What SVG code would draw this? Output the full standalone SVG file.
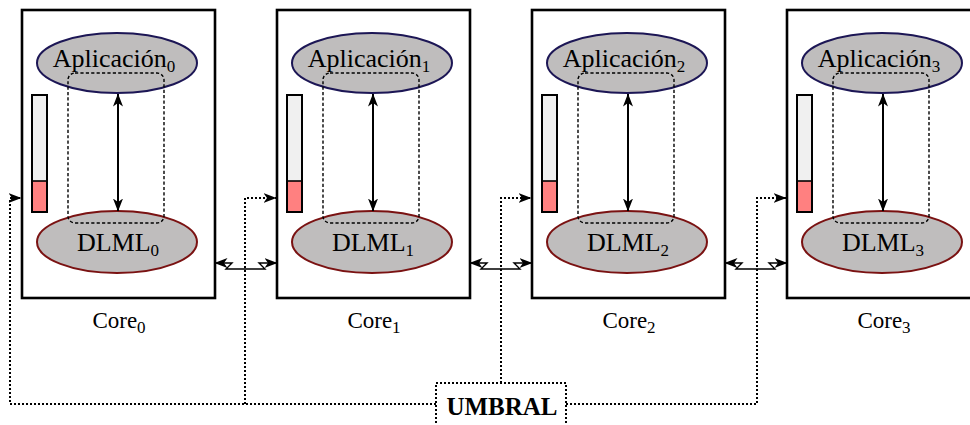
<svg xmlns="http://www.w3.org/2000/svg" width="970" height="425" viewBox="0 0 970 425">
  <style>
    .core { fill: #ffffff; stroke: #000000; stroke-width: 2.6; }
    .app { fill: #bfbdbd; stroke: #1c1655; stroke-width: 2; }
    .dlml { fill: #bfbdbd; stroke: #7a1212; stroke-width: 2; }
    .scope { fill: none; stroke: #000000; stroke-width: 1.4; stroke-dasharray: 3.2 2.2; }
    .bar-empty { fill: #f0f0f0; stroke: none; }
    .bar-fill { fill: #ff8080; stroke: none; }
    .bar-frame { fill: none; stroke: #000000; stroke-width: 2; }
    .bar-cut { stroke: #000000; stroke-width: 1.6; }
    .link { fill: none; stroke: #000000; stroke-width: 2; }
    .net { fill: none; stroke: #000000; stroke-width: 1.4; marker-start: url(#head); marker-end: url(#head); }
    .dots { fill: none; stroke: #000000; stroke-width: 2; stroke-dasharray: 2 2; }
    .lbl { font-family: "Liberation Serif", "Times New Roman", serif; fill: #000000; text-anchor: middle; }
    .big { font-size: 26px; }
    .mid { font-size: 23px; }
    .sub { font-size: 17px; }
    .umbral { font-family: "Liberation Serif", "Times New Roman", serif; font-weight: bold; font-size: 25px; text-anchor: middle; }
  </style>
  <defs>
    <marker id="head" markerUnits="userSpaceOnUse" markerWidth="13" markerHeight="10" refX="12.5" refY="5" orient="auto-start-reverse" viewBox="0 0 13 10">
      <path d="M0,0 L13,5 L0,10 L3.5,5 Z" fill="#000000"/>
    </marker>
    <marker id="tip" markerUnits="userSpaceOnUse" markerWidth="13" markerHeight="10" refX="12.5" refY="5" orient="auto" viewBox="0 0 13 10">
      <path d="M0,0 L13,5 L0,10 L3.5,5 Z" fill="#000000"/>
    </marker>
  </defs>

  <!-- Core 0 -->
  <g id="core0" transform="translate(22,0)">
    <rect class="core" x="0" y="10" width="193" height="288"/>
    <rect class="bar-empty" x="10" y="95" width="15" height="86"/>
    <rect class="bar-fill" x="10" y="181" width="15" height="31"/>
    <line class="bar-cut" x1="10" y1="181" x2="25" y2="181"/>
    <rect class="bar-frame" x="10" y="95" width="15" height="117"/>
    <ellipse class="app" cx="95" cy="63" rx="80" ry="30"/>
    <ellipse class="dlml" cx="95" cy="242" rx="80" ry="31"/>
    <rect class="scope" x="46" y="73" width="96" height="150" rx="7"/>
    <line class="link" x1="96" y1="94" x2="96" y2="211" marker-start="url(#head)" marker-end="url(#head)"/>
    <text class="lbl big" x="92" y="67">Aplicación<tspan class="sub" dy="5">0</tspan></text>
    <text class="lbl big" x="96" y="251">DLML<tspan class="sub" dy="5">0</tspan></text>
    <text class="lbl mid" x="97" y="328">Core<tspan class="sub" dy="5">0</tspan></text>
  </g>

  <!-- Core 1 -->
  <g id="core1" transform="translate(277,0)">
    <rect class="core" x="0" y="10" width="193" height="288"/>
    <rect class="bar-empty" x="10" y="95" width="15" height="86"/>
    <rect class="bar-fill" x="10" y="181" width="15" height="31"/>
    <line class="bar-cut" x1="10" y1="181" x2="25" y2="181"/>
    <rect class="bar-frame" x="10" y="95" width="15" height="117"/>
    <ellipse class="app" cx="95" cy="63" rx="80" ry="30"/>
    <ellipse class="dlml" cx="95" cy="242" rx="80" ry="31"/>
    <rect class="scope" x="46" y="73" width="96" height="150" rx="7"/>
    <line class="link" x1="96" y1="94" x2="96" y2="211" marker-start="url(#head)" marker-end="url(#head)"/>
    <text class="lbl big" x="92" y="67">Aplicación<tspan class="sub" dy="5">1</tspan></text>
    <text class="lbl big" x="96" y="251">DLML<tspan class="sub" dy="5">1</tspan></text>
    <text class="lbl mid" x="97" y="328">Core<tspan class="sub" dy="5">1</tspan></text>
  </g>

  <!-- Core 2 -->
  <g id="core2" transform="translate(532,0)">
    <rect class="core" x="0" y="10" width="193" height="288"/>
    <rect class="bar-empty" x="10" y="95" width="15" height="86"/>
    <rect class="bar-fill" x="10" y="181" width="15" height="31"/>
    <line class="bar-cut" x1="10" y1="181" x2="25" y2="181"/>
    <rect class="bar-frame" x="10" y="95" width="15" height="117"/>
    <ellipse class="app" cx="95" cy="63" rx="80" ry="30"/>
    <ellipse class="dlml" cx="95" cy="242" rx="80" ry="31"/>
    <rect class="scope" x="46" y="73" width="96" height="150" rx="7"/>
    <line class="link" x1="96" y1="94" x2="96" y2="211" marker-start="url(#head)" marker-end="url(#head)"/>
    <text class="lbl big" x="92" y="67">Aplicación<tspan class="sub" dy="5">2</tspan></text>
    <text class="lbl big" x="96" y="251">DLML<tspan class="sub" dy="5">2</tspan></text>
    <text class="lbl mid" x="97" y="328">Core<tspan class="sub" dy="5">2</tspan></text>
  </g>

  <!-- Core 3 -->
  <g id="core3" transform="translate(787,0)">
    <rect class="core" x="0" y="10" width="193" height="288"/>
    <rect class="bar-empty" x="10" y="95" width="15" height="86"/>
    <rect class="bar-fill" x="10" y="181" width="15" height="31"/>
    <line class="bar-cut" x1="10" y1="181" x2="25" y2="181"/>
    <rect class="bar-frame" x="10" y="95" width="15" height="117"/>
    <ellipse class="app" cx="95" cy="63" rx="80" ry="30"/>
    <ellipse class="dlml" cx="95" cy="242" rx="80" ry="31"/>
    <rect class="scope" x="46" y="73" width="96" height="150" rx="7"/>
    <line class="link" x1="96" y1="94" x2="96" y2="211" marker-start="url(#head)" marker-end="url(#head)"/>
    <text class="lbl big" x="92" y="67">Aplicación<tspan class="sub" dy="5">3</tspan></text>
    <text class="lbl big" x="96" y="251">DLML<tspan class="sub" dy="5">3</tspan></text>
    <text class="lbl mid" x="97" y="328">Core<tspan class="sub" dy="5">3</tspan></text>
  </g>

  <!-- Threshold block -->
  <g id="umbral">
    <rect class="dots" x="436" y="383" width="130" height="52"/>
    <text class="umbral" x="502" y="415">UMBRAL</text>
  </g>

  <!-- Connectors -->
  <g id="connectors">
    <!-- inter-core links -->
    <path class="net" d="M215,263 H232 L226,269 H265 L259,263 H277"/>
    <path class="net" d="M470,263 H487 L481,269 H520 L514,263 H532"/>
    <path class="net" d="M725,263 H742 L736,269 H775 L769,263 H787"/>
    <!-- threshold distribution -->
    <path class="dots" d="M436,404 H10 V198 H21" marker-end="url(#tip)"/>
    <path class="dots" d="M245,404 V198 H276" marker-end="url(#tip)"/>
    <path class="dots" d="M501,383 V198 H531" marker-end="url(#tip)"/>
    <path class="dots" d="M566,404 H757 V198 H786" marker-end="url(#tip)"/>
  </g>
</svg>
